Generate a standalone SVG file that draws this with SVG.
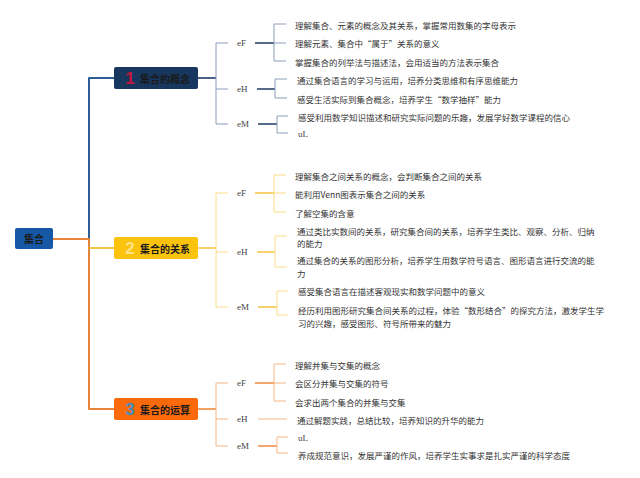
<svg xmlns="http://www.w3.org/2000/svg" width="640" height="478" viewBox="0 0 640 478">
<style>
.t{font-family:"Noto Sans CJK SC","Liberation Sans",sans-serif;font-size:8.5px;fill:#333;dominant-baseline:central}
.lb{font-family:"Liberation Serif",serif;font-size:9px;fill:#444;dominant-baseline:central}
.nt{font-family:"Noto Sans CJK SC","Liberation Sans",sans-serif;font-size:10px;font-weight:bold;fill:#1a1a1a;dominant-baseline:central}
.num{font-family:"Liberation Sans",sans-serif;font-size:17px;font-weight:bold;text-anchor:middle;dominant-baseline:central}
.c{fill:none;stroke-linejoin:round}
.b1{stroke:#1f3b63;stroke-width:1.6}
.l1{stroke:#8a9dbb;stroke-width:1}
.b2{stroke:#f5c542;stroke-width:1.6}
.l2{stroke:#fbdc86;stroke-width:1}
.b3{stroke:#f08a3c;stroke-width:1.6}
.l3{stroke:#f7b585;stroke-width:1}
</style>
<rect width="640" height="478" fill="#ffffff"/>
<g id="connectors">
  <!-- trunk -->
  <path class="c" d="M114,78 H89 V239" stroke="#2d5f96" stroke-width="2"/>
  <path class="c" d="M53,239 H89 V409 H114" stroke="#e8843a" stroke-width="2"/>
  <path class="c" d="M89,248 H114" stroke="#f5c542" stroke-width="2"/>
  <!-- branch 1 -->
  <path class="c b1" d="M198,78 H216"/>
  <path class="c l1" d="M228,43 H216 V124 H228 M216,89 H228"/>
  <path class="c b1" d="M255,43 H274 M257,89 H275 M258,124 H277"/>
  <path class="c l1" d="M286,24 H274 V61 H286 M274,43 H286"/>
  <path class="c l1" d="M287,79 H275 V98 H287"/>
  <path class="c l1" d="M288,116 H277 V133 H288"/>
  <!-- branch 2 -->
  <path class="c b2" d="M198,248 H216"/>
  <path class="c l2" d="M228,193 H216 V307 H228 M216,252 H228"/>
  <path class="c b2" d="M255,193 H274 M257,252 H275 M258,307 H277"/>
  <path class="c l2" d="M286,175 H274 V212 H286 M274,193 H286"/>
  <path class="c l2" d="M287,236 H275 V267 H287"/>
  <path class="c l2" d="M288,291 H277 V315 H288"/>
  <!-- branch 3 -->
  <path class="c b3" d="M198,409 H216"/>
  <path class="c l3" d="M228,383 H216 V446 H228 M216,419 H228"/>
  <path class="c b3" d="M255,383 H274 M258,446 H277"/>
  <path class="c l3" d="M258,419 H287"/>
  <path class="c l3" d="M286,364 H274 V401 H286 M274,383 H286"/>
  <path class="c l3" d="M288,437 H277 V453 H288"/>
</g>
<g id="root">
  <rect x="15" y="228" width="38" height="21" rx="2" fill="#1658a5"/>
  <text class="nt" x="34" y="238.5" text-anchor="middle" font-size="9.5">集合</text>
</g>
<g id="node1">
  <rect x="114" y="67" width="84" height="22" rx="2" fill="#17375e"/>
  <text class="num" x="130" y="78" fill="#c8143c">1</text>
  <text class="nt" x="140" y="78">集合的概念</text>
</g>
<g id="node2">
  <rect x="114" y="237" width="84" height="22" rx="2" fill="#fbc30d"/>
  <text class="num" x="130" y="248" fill="#fde38c">2</text>
  <text class="nt" x="140" y="248">集合的关系</text>
</g>
<g id="node3">
  <rect x="114" y="398" width="84" height="22" rx="2" fill="#fa6a0a"/>
  <text class="num" x="130" y="409" fill="#3d8fc4">3</text>
  <text class="nt" x="140" y="409">集合的运算</text>
</g>
<g id="n1-labels">
  <text class="lb" x="237" y="43">eF</text>
  <text class="lb" x="237" y="89">eH</text>
  <text class="lb" x="237" y="124">eM</text>
</g>
<g id="n1-items">
  <text class="t" x="295" y="25">理解集合、元素的概念及其关系，掌握常用数集的字母表示</text>
  <text class="t" x="295" y="43">理解元素、集合中“属于”关系的意义</text>
  <text class="t" x="295" y="62">掌握集合的列举法与描述法，会用适当的方法表示集合</text>
  <text class="t" x="297" y="80">通过集合语言的学习与运用，培养分类思维和有序思维能力</text>
  <text class="t" x="297" y="99">感受生活实际到集合概念，培养学生“数学抽样”能力</text>
  <text class="t" x="298" y="117">感受利用数学知识描述和研究实际问题的乐趣，发展学好数学课程的信心</text>
  <text class="lb" x="298" y="134">uL</text>
</g>
<g id="n2-labels">
  <text class="lb" x="237" y="193">eF</text>
  <text class="lb" x="237" y="252">eH</text>
  <text class="lb" x="237" y="307">eM</text>
</g>
<g id="n2-items">
  <text class="t" x="295" y="176">理解集合之间关系的概念，会判断集合之间的关系</text>
  <text class="t" x="295" y="194">能利用Venn图表示集合之间的关系</text>
  <text class="t" x="295" y="213">了解空集的含意</text>
  <text class="t" x="297" y="231">通过类比实数间的关系，研究集合间的关系，培养学生类比、观察、分析、归纳</text>
  <text class="t" x="297" y="243">的能力</text>
  <text class="t" x="297" y="260">通过集合的关系的图形分析，培养学生用数学符号语言、图形语言进行交流的能</text>
  <text class="t" x="297" y="273">力</text>
  <text class="t" x="298" y="291">感受集合语言在描述客观现实和数学问题中的意义</text>
  <text class="t" x="298" y="310">经历利用图形研究集合间关系的过程，体验“数形结合”的探究方法，激发学生学</text>
  <text class="t" x="298" y="323">习的兴趣，感受图形、符号所带来的魅力</text>
</g>
<g id="n3-labels">
  <text class="lb" x="237" y="383">eF</text>
  <text class="lb" x="237" y="419">eH</text>
  <text class="lb" x="237" y="446">eM</text>
</g>
<g id="n3-items">
  <text class="t" x="295" y="365">理解并集与交集的概念</text>
  <text class="t" x="295" y="383">会区分并集与交集的符号</text>
  <text class="t" x="295" y="402">会求出两个集合的并集与交集</text>
  <text class="t" x="297" y="420">通过解题实践，总结比较，培养知识的升华的能力</text>
  <text class="lb" x="298" y="438">uL</text>
  <text class="t" x="298" y="455">养成规范意识，发展严谨的作风，培养学生实事求是扎实严谨的科学态度</text>
</g>
</svg>
